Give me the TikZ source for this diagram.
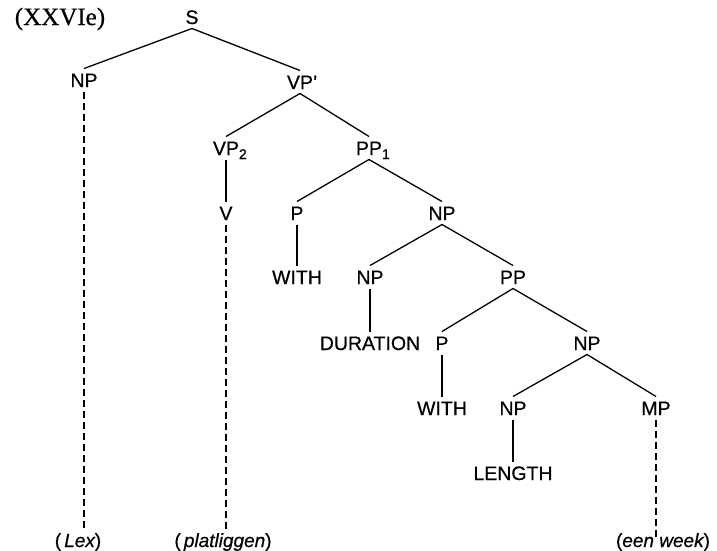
\documentclass[tikz,border=0pt]{standalone}
\usepackage{fontspec}
\setmainfont{Liberation Serif}
\setsansfont{Liberation Sans}
\newfontface\medsans{Liberation Sans}[FakeBold=0.6]
\newfontface\medsansit{Liberation Sans Italic}[FakeBold=0.6]
\newfontface\medserif{Liberation Serif}[FakeBold=0.6]
\begin{document}
\begin{tikzpicture}[x=1pt,y=-1pt,
  lab/.style={font=\medsans\fontsize{19.5}{21}\selectfont, inner sep=0pt, outer sep=4.5pt, text height=14pt, text depth=0pt},
  leaf/.style={font=\medsans\fontsize{19}{21}\selectfont, inner sep=0pt, outer sep=3pt, text height=14pt, text depth=0pt},
  edge/.style={line width=1.3pt},
  dedge/.style={line width=1.2pt, dash pattern=on 7pt off 4pt}]
\useasboundingbox (0,0) rectangle (717,551);
\node[font=\medserif\fontsize{25}{27}\selectfont, inner sep=0pt] (title) at (60,19) {(XXVIe)};
\node[lab] (S) at (192,17) {S};
\node[lab] (NPa) at (84,80) {NP};
\node[lab] (VPp) at (300,82) {VP\rlap{\textquoteright}};
\node[lab] (VP2) at (226,148) {VP\rlap{\raisebox{-4pt}{\fontsize{14}{15}\selectfont 2}}};
\node[lab] (PP1) at (369,148) {PP\rlap{\raisebox{-4pt}{\fontsize{14}{15}\selectfont 1}}};
\node[lab] (V) at (226,213) {V};
\node[lab] (Pa) at (297,213) {P};
\node[lab] (NPb) at (442,213) {NP};
\node[lab] (WITHa) at (297,277) {WITH};
\node[lab] (NPc) at (370,277) {NP};
\node[lab] (PPb) at (513,277) {PP};
\node[lab] (DUR) at (370,343) {DURATION};
\node[lab] (Pb) at (442,343) {P};
\node[lab] (NPd) at (587,343) {NP};
\node[lab] (WITHb) at (442,408) {WITH};
\node[lab] (NPe) at (513,408) {NP};
\node[lab] (MP) at (656,408) {MP};
\node[lab] (LEN) at (513,473) {LENGTH};
\node[leaf] (Lex) at (78,540) {(\,{\medsansit Lex})};
\node[leaf] (plat) at (223,540) {(\,{\medsansit platliggen})};
\node[leaf] (week) at (663,540) {({\medsansit een week})};
\coordinate (wtop) at (656,537);

\draw[edge] (S.south) -- (NPa.north);
\draw[edge] (S.south) -- (VPp.north);
\draw[edge] (VPp.south) -- (VP2.north);
\draw[edge] (VPp.south) -- (PP1.north);
\draw[edge] (VP2.south) -- (V.north);
\draw[edge] (PP1.south) -- (Pa.north);
\draw[edge] (PP1.south) -- (NPb.north);
\draw[edge] (Pa.south) -- (WITHa.north);
\draw[edge] (NPb.south) -- (NPc.north);
\draw[edge] (NPb.south) -- (PPb.north);
\draw[edge] (NPc.south) -- (DUR.north);
\draw[edge] (PPb.south) -- (Pb.north);
\draw[edge] (PPb.south) -- (NPd.north);
\draw[edge] (Pb.south) -- (WITHb.north);
\draw[edge] (NPd.south) -- (NPe.north);
\draw[edge] (NPd.south) -- (MP.north);
\draw[edge] (NPe.south) -- (LEN.north);
\draw[dedge] (NPa.south) -- (NPa.south |- Lex.north);
\draw[dedge] (V.south) -- (V.south |- plat.north);
\draw[dedge] (MP.south) -- (wtop);
\end{tikzpicture}
\end{document}
